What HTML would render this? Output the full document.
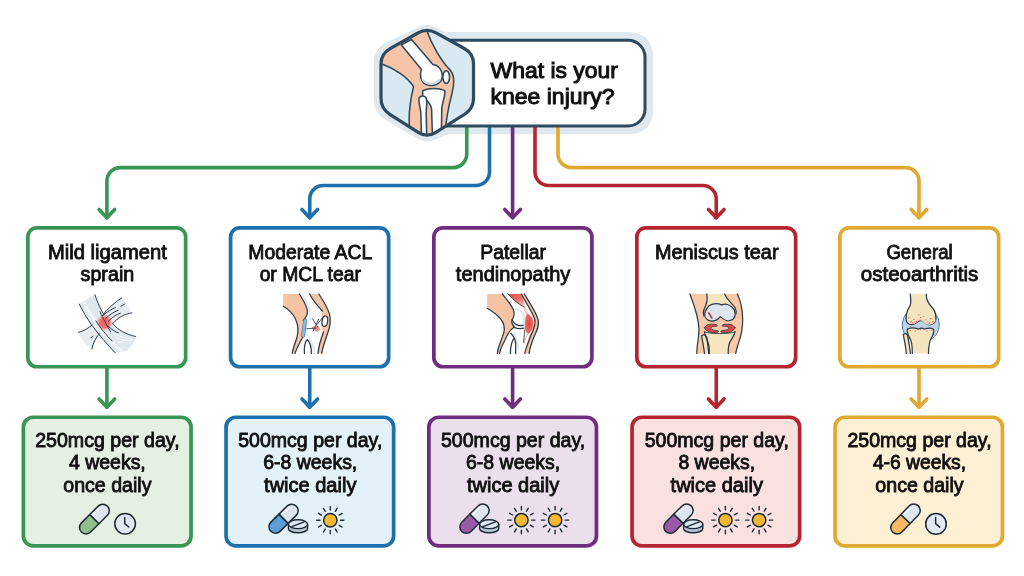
<!DOCTYPE html>
<html lang="en">
<head>
<meta charset="utf-8">
<title>What is your knee injury?</title>
<style>
html,body{margin:0;padding:0;background:#fff;}
body{width:1024px;height:576px;overflow:hidden;}
svg{display:block;will-change:opacity;}
text{font-family:"Liberation Sans",Arial,sans-serif;fill:#111;stroke:#111;stroke-width:.85px;text-anchor:middle;}
.t20{font-size:20px;}
.hd{font-size:22px;text-anchor:start;stroke-width:1px;}
.ln{fill:none;stroke-width:3.6;stroke-linecap:round;stroke-linejoin:round;}
</style>
</head>
<body>
<svg width="1024" height="576" viewBox="0 0 1024 576">

<path d="M422 33.5Q427 30.5 432 33.5L444 39.25H628Q646 39.25 646 57V109Q646 127 628 127H446L432 133Q427 135.5 422 133L389 113.5Q381 108.7 381 100V62Q381 53.7 389 49.2Z" fill="#dfe8ee" stroke="#dfe8ee" stroke-width="14.5" stroke-linejoin="round"/>
<g id="connectors">
<path class="ln" stroke="#389553" d="M466.75 127V154.1A13.5 13.5 0 0 1 453.25 167.6H120.4A13.5 13.5 0 0 0 106.9 181.1V217.8"/>
<path class="ln" stroke="#389553" d="M99.1 209.5L106.9 217.8L114.7 209.5"/>
<path class="ln" stroke="#389553" d="M106.9 368.6V407.3"/>
<path class="ln" stroke="#389553" d="M99.1 399.0L106.9 407.3L114.7 399.0"/>
<path class="ln" stroke="#1c70ab" d="M489.5 127V172.0A13.5 13.5 0 0 1 476.0 185.5H323.25A13.5 13.5 0 0 0 309.75 199.0V217.8"/>
<path class="ln" stroke="#1c70ab" d="M301.95 209.5L309.75 217.8L317.55 209.5"/>
<path class="ln" stroke="#1c70ab" d="M309.75 368.6V407.3"/>
<path class="ln" stroke="#1c70ab" d="M301.95 399.0L309.75 407.3L317.55 399.0"/>
<path class="ln" stroke="#6e2d7e" d="M512.6 127V217.8"/>
<path class="ln" stroke="#6e2d7e" d="M504.8 209.5L512.6 217.8L520.4 209.5"/>
<path class="ln" stroke="#6e2d7e" d="M512.6 368.6V407.3"/>
<path class="ln" stroke="#6e2d7e" d="M504.8 399.0L512.6 407.3L520.4 399.0"/>
<path class="ln" stroke="#b6242f" d="M535 127V172.0A13.5 13.5 0 0 0 548.5 185.5H702.75A13.5 13.5 0 0 1 716.25 199.0V217.8"/>
<path class="ln" stroke="#b6242f" d="M708.45 209.5L716.25 217.8L724.05 209.5"/>
<path class="ln" stroke="#b6242f" d="M716.25 368.6V407.3"/>
<path class="ln" stroke="#b6242f" d="M708.45 399.0L716.25 407.3L724.05 399.0"/>
<path class="ln" stroke="#e0a932" d="M558 127V154.1A13.5 13.5 0 0 0 571.5 167.6H905.5A13.5 13.5 0 0 1 919.0 181.1V217.8"/>
<path class="ln" stroke="#e0a932" d="M911.2 209.5L919.0 217.8L926.8 209.5"/>
<path class="ln" stroke="#e0a932" d="M919.0 368.6V407.3"/>
<path class="ln" stroke="#e0a932" d="M911.2 399.0L919.0 407.3L926.8 399.0"/>
</g>
<g id="header">
<defs>
<clipPath id="hexclip"><path d="M224.5 58.5Q265.5 35.5 306.7 58.2L433.6 128.1Q474.8 150.8 474.8 197.8L474.8 352.0Q474.8 399.0 435.0 424.1L305.3 505.9Q265.5 531.0 225.9 505.7L98.1 424.3Q58.5 399.0 58.5 352.0L58.5 198.6Q58.5 151.6 99.5 128.6Z"/></clipPath>
</defs>
<path d="M440 40.25H628A17 17 0 0 1 645 57.25V109A17 17 0 0 1 628 126H440" fill="#fff" stroke="#2f4a5f" stroke-width="3"/>
<g transform="translate(368 20) scale(.22222)">
<path d="M224.5 58.5Q265.5 35.5 306.7 58.2L433.6 128.1Q474.8 150.8 474.8 197.8L474.8 352.0Q474.8 399.0 435.0 424.1L305.3 505.9Q265.5 531.0 225.9 505.7L98.1 424.3Q58.5 399.0 58.5 352.0L58.5 198.6Q58.5 151.6 99.5 128.6Z" fill="#d9e9f2"/>
<g clip-path="url(#hexclip)" stroke="#2f4a5f" stroke-width="7" stroke-linejoin="round" stroke-linecap="round">
<path d="M40 190L20 190L20 0L262 0L262 40C285 110 330 185 372 228C392 252 388 290 378 330C362 390 352 440 345 520L190 520C180 450 185 380 205 300C180 260 120 215 40 190Z" fill="#f6c4a6"/>
<path d="M150 112L196 88L292 200C330 205 345 250 325 278C300 305 250 300 238 262C232 240 240 225 240 222Z" fill="#fff"/>
<path d="M246 268C262 290 300 292 322 270" fill="none" stroke="#cfd8de" stroke-width="10"/>
<path d="M246 318C275 305 320 305 345 318C350 345 335 360 332 400L330 520H290L286 400C282 372 262 360 246 345Z" fill="#fff"/>
<path d="M230 350C240 338 256 340 262 352C268 372 262 390 262 420L264 520H240L238 420C236 392 226 372 230 350Z" fill="#fff"/>
<ellipse cx="352" cy="257" rx="15" ry="29" fill="#fff"/>
</g>
<path d="M224.5 58.5Q265.5 35.5 306.7 58.2L433.6 128.1Q474.8 150.8 474.8 197.8L474.8 352.0Q474.8 399.0 435.0 424.1L305.3 505.9Q265.5 531.0 225.9 505.7L98.1 424.3Q58.5 399.0 58.5 352.0L58.5 198.6Q58.5 151.6 99.5 128.6Z" fill="none" stroke="#2f4a5f" stroke-width="14.5" stroke-linejoin="round"/>
</g>
<text class="hd" x="490.5" y="77.6" textLength="127.5" lengthAdjust="spacingAndGlyphs">What is your</text>
<text class="hd" x="490.5" y="103.75" textLength="124" lengthAdjust="spacingAndGlyphs">knee injury?</text>
</g>
<g id="injuries">
<rect x="27.85" y="227.85" width="157.8" height="138.9" rx="9" fill="#fff" stroke="#389553" stroke-width="3.7"/>
<text class="t20" x="107.4" y="258.5" textLength="119" lengthAdjust="spacingAndGlyphs">Mild ligament</text>
<text class="t20" x="107.4" y="281.0" textLength="53.75" lengthAdjust="spacingAndGlyphs">sprain</text>
<defs><radialGradient id="hot" cx=".5" cy=".5" r=".5"><stop offset="0" stop-color="#ee5a5a"/><stop offset=".6" stop-color="#f07272"/><stop offset="1" stop-color="#f3a7a4" stop-opacity="0"/></radialGradient></defs>
<g transform="translate(66 284) scale(.13889)" fill="none" stroke="#2b3a46" stroke-width="7" stroke-linecap="round" stroke-linejoin="round">
<path d="M95 145C130 122 170 98 205 78C225 130 250 185 300 250C350 315 420 360 505 378C490 420 465 455 445 475C415 488 385 495 352 495C300 440 235 360 180 290C150 245 120 195 95 145Z" fill="#dfe8ef" stroke="none"/>
<path d="M88 348C130 335 165 312 195 282C245 225 320 150 402 100C430 130 455 165 470 205C410 220 365 250 325 295C280 345 215 395 185 468C150 450 110 400 88 348Z" fill="#e6edf2" stroke="none"/>
<path d="M130 135C160 190 200 260 260 335C310 400 360 450 400 480" stroke="#f2f6f9" stroke-width="22"/>
<circle cx="278" cy="278" r="62" fill="url(#hot)" stroke="none"/>
<path d="M95 145C120 195 150 245 182 292C235 362 300 440 354 495"/>
<path d="M208 76C222 120 240 165 268 212"/>
<path d="M402 100C350 135 300 172 262 228"/>
<path d="M475 208C420 215 370 245 335 285"/>
<path d="M335 285C380 335 430 362 502 378"/>
<path d="M90 348C130 338 160 320 188 294"/>
<path d="M240 358C212 390 195 425 186 468"/>
<path d="M215 265C250 320 290 370 332 410"/>
<path d="M245 200C262 240 295 300 322 345"/>
<path d="M270 225C295 200 325 182 355 170M285 248C312 222 342 202 375 190M305 268C330 240 360 222 392 210M300 300C330 330 355 345 378 352"/>
<path d="M395 160L420 146M180 388L192 374"/>
<path d="M360 385C400 405 440 410 475 405M375 425L430 400M350 355C380 375 420 392 460 392" stroke="#fff" stroke-width="6"/>
</g>
<rect x="230.6" y="227.85" width="158.05" height="138.9" rx="9" fill="#fff" stroke="#1c70ab" stroke-width="3.7"/>
<text class="t20" x="310.25" y="258.5" textLength="124" lengthAdjust="spacingAndGlyphs">Moderate ACL</text>
<text class="t20" x="310.25" y="281.0" textLength="101.25" lengthAdjust="spacingAndGlyphs">or MCL tear</text>
<g transform="translate(270 284) scale(.13889)" fill="none" stroke="#2b3a46" stroke-width="9" stroke-linecap="round" stroke-linejoin="round">
<path d="M95 72H215C240 120 268 160 270 200C270 230 250 250 238 262C225 300 235 340 238 380C215 420 190 460 178 500H160C165 440 195 390 200 340C205 280 175 230 140 195C120 178 105 168 95 160Z" fill="#f6c3a3" stroke="none"/>
<path d="M285 72H352C375 110 410 160 428 215C440 260 435 300 415 355C395 410 380 455 372 500H345C350 450 365 400 385 345C350 320 372 230 378 195C345 160 305 110 285 72Z" fill="#f6c3a3" stroke="none"/>
<path d="M215 72H285C305 110 345 160 378 195C372 230 355 300 385 345C365 400 350 450 345 500H178C190 460 215 420 238 380C235 340 225 300 238 262C250 250 270 230 270 200C268 160 240 120 215 72Z" fill="#fff" stroke="none"/>
<path d="M232 80C262 130 290 170 292 215C292 250 270 275 262 300C258 340 262 370 285 395C305 420 315 460 318 500" stroke="#dfe8ee" stroke-width="12"/>
<path d="M300 310L345 300L365 330L335 345Z" fill="#ef8f8c" stroke="none"/>
<path d="M95 160C130 178 165 215 185 255C205 300 205 340 195 380C185 420 165 460 160 500"/>
<path d="M212 72C240 120 268 160 270 200C270 230 252 248 238 262"/>
<path d="M285 72C305 110 335 150 378 195"/>
<path d="M352 72C380 115 412 165 428 215C440 260 436 300 415 355C395 410 380 455 372 500"/>
<path d="M385 345C365 400 350 450 345 500"/>
<path d="M238 380C215 420 192 460 180 500"/>
<path d="M248 500C245 460 250 420 268 400C290 420 298 460 298 500"/>
<ellipse cx="395" cy="268" rx="20" ry="38" fill="#fff" transform="rotate(8 395 268)"/>
<path d="M252 262L238 372" stroke="#4d7798" stroke-width="28"/>
<path d="M252 262L238 372" stroke="#8fb9d8" stroke-width="18"/>
<path d="M265 322L330 318M305 250L345 310M350 255L310 340M340 290L380 240" stroke-width="6"/>
</g>
<rect x="433.85" y="227.85" width="158.05" height="138.9" rx="9" fill="#fff" stroke="#6e2d7e" stroke-width="3.7"/>
<text class="t20" x="513.1" y="258.5" textLength="65.75" lengthAdjust="spacingAndGlyphs">Patellar</text>
<text class="t20" x="513.1" y="281.0" textLength="114.5" lengthAdjust="spacingAndGlyphs">tendinopathy</text>
<defs>
<linearGradient id="mus" x1="0" y1="0" x2="1" y2="1"><stop offset="0" stop-color="#d94a40"/><stop offset=".55" stop-color="#ee7468"/><stop offset="1" stop-color="#f9d6cf"/></linearGradient>
<radialGradient id="ten" cx=".5" cy=".5" r=".6"><stop offset="0" stop-color="#e8483f"/><stop offset=".7" stop-color="#ee6a60"/><stop offset="1" stop-color="#f7b7ad"/></radialGradient>
</defs>
<g transform="translate(474 284) scale(.13889)" fill="none" stroke="#2b3a46" stroke-width="9" stroke-linecap="round" stroke-linejoin="round">
<path d="M95 72H205C235 110 270 150 285 190C292 215 290 235 275 255C268 275 275 295 290 310C260 330 240 360 225 400C205 440 185 470 182 500H168C170 450 200 400 215 350C225 310 215 280 190 250C165 220 130 195 95 175Z" fill="#f6c3a3" stroke="none"/>
<path d="M205 72H355C395 140 440 200 460 260C470 300 450 340 430 380C410 430 398 470 395 500H182C185 470 205 440 225 400C240 360 260 330 290 310C275 295 268 275 275 255C290 235 292 215 285 190C270 150 235 110 205 72Z" fill="#fff" stroke="none"/>
<path d="M340 72H362C400 135 445 200 462 258C472 300 452 340 432 380C412 430 400 470 397 500H366C370 450 388 400 408 350C432 300 438 260 414 215C392 170 360 120 340 72Z" fill="#f6c3a3" stroke="none"/>
<path d="M245 72H340C352 100 368 135 364 168C335 158 295 128 245 72Z" fill="url(#mus)" stroke="none"/>
<path d="M362 166C370 185 376 202 382 215" stroke="#f4c9c0" stroke-width="16"/>
<path d="M382 210C412 225 432 255 428 292C424 328 402 352 386 364C368 340 360 300 366 265C370 240 375 225 382 210Z" fill="url(#ten)" stroke="none"/>
<path d="M385 360C375 380 365 400 358 425" stroke="#f3c4bb" stroke-width="12"/>
<path d="M300 180C340 190 365 220 362 260C360 285 340 300 315 300C295 300 280 290 278 270" stroke="#dfe8ee" stroke-width="14"/>
<path d="M285 345C300 380 315 420 318 470" stroke="#dfe8ee" stroke-width="12"/>
<path d="M95 175C130 195 165 220 190 250C215 280 225 310 215 350C200 400 172 450 168 500"/>
<path d="M205 72C235 110 270 150 285 190C292 215 290 235 275 255C268 275 275 295 290 310"/>
<path d="M275 258C285 290 320 305 355 298"/>
<path d="M290 312C310 322 340 322 360 318"/>
<path d="M290 310C260 330 240 360 225 400C205 440 187 470 184 500"/>
<path d="M265 355C285 375 298 400 300 430V500M262 500C262 460 270 420 285 395"/>
<path d="M340 72C375 135 420 200 438 255C448 295 428 335 408 375C390 425 370 470 366 500"/>
<path d="M362 72C400 135 445 200 462 258C472 300 452 340 432 380C412 430 400 470 397 500"/>
<path d="M245 72C290 122 332 152 362 166" stroke-width="6"/>
<path d="M365 330C362 360 360 390 358 420" stroke-width="6"/>
</g>
<rect x="636.85" y="227.85" width="158.8" height="138.9" rx="9" fill="#fff" stroke="#b6242f" stroke-width="3.7"/>
<text class="t20" x="716.75" y="258.5" textLength="123.5" lengthAdjust="spacingAndGlyphs">Meniscus tear</text>
<g transform="translate(676 284) scale(.13889)" fill="none" stroke="#2b3a46" stroke-width="9" stroke-linecap="round" stroke-linejoin="round">
<path d="M100 72H442C465 120 478 180 480 250C482 330 460 400 445 440C438 465 432 485 430 500H150C148 440 168 380 165 320C162 240 130 150 100 72Z" fill="#f8c8a9" stroke="none"/>
<path d="M222 72H350C365 110 400 135 425 170C440 200 435 240 410 258C380 275 340 262 320 235C300 262 262 278 232 262C200 245 190 205 205 175C225 140 228 110 222 72Z" fill="#f6e6c0" stroke="none"/>
<path d="M205 345H425C420 380 390 400 380 440C376 460 376 480 376 500H240C240 480 240 460 236 440C228 400 208 380 205 345Z" fill="#f6e6c0" stroke="none"/>
<path d="M185 372C200 360 218 368 222 385C226 420 232 460 236 500H205C202 460 190 420 185 372Z" fill="#f6e6c0" stroke="none"/><path d="M205 500C202 460 190 420 185 372C200 360 218 368 222 385C226 420 232 460 236 500"/>
<path d="M100 72C130 150 162 240 165 320C168 380 148 440 150 500"/>
<path d="M442 72C465 120 478 180 480 250C482 330 460 400 445 440C438 465 432 485 430 500"/>
<path d="M222 72C228 110 225 140 205 175C195 195 195 215 202 232"/>
<path d="M350 72C365 110 400 135 425 170C432 185 435 200 432 215"/>
<path d="M240 155C270 138 300 138 330 150C360 138 395 150 418 185C432 210 428 240 408 256C380 272 345 262 320 235C300 262 262 275 235 262C210 250 200 225 210 200C218 180 228 165 240 155Z" fill="#dde6ee"/>
<path d="M236 208L258 246" stroke="#c8352f" stroke-width="12"/>
<path d="M205 315C215 290 250 285 290 292C300 295 300 305 290 305C265 302 250 310 252 320C256 332 280 335 300 335C308 336 308 348 300 350C255 355 215 345 205 315Z" fill="#dc4a44" stroke-width="6"/>
<path d="M425 315C415 290 380 285 340 292C330 295 330 305 340 305C365 302 380 310 378 320C374 332 350 335 330 335C322 336 322 348 330 350C375 355 415 345 425 315Z" fill="#dc4a44" stroke-width="6"/>
<path d="M205 345C208 380 228 400 236 440C240 460 240 480 240 500M425 345C420 380 390 400 380 440C376 460 376 480 376 500"/>
<path d="M205 345C250 362 380 362 425 345" stroke-width="6"/>
</g>
<rect x="839.85" y="227.85" width="158.8" height="138.9" rx="9" fill="#fff" stroke="#e0a932" stroke-width="3.7"/>
<text class="t20" x="919.5" y="258.5" textLength="66.25" lengthAdjust="spacingAndGlyphs">General</text>
<text class="t20" x="919.5" y="281.0" textLength="117.5" lengthAdjust="spacingAndGlyphs">osteoarthritis</text>
<g transform="translate(879 284) scale(.13889)" fill="none" stroke="#2b3a46" stroke-width="9" stroke-linecap="round" stroke-linejoin="round">
<path d="M195 215C165 250 160 310 180 350C200 395 240 410 300 410C360 410 400 395 420 350C442 305 438 250 405 215Z" fill="#bcd4e6" stroke="#4d7798" stroke-width="7"/>
<path d="M225 72H340C340 110 350 135 375 160C400 185 412 215 410 250C408 280 385 295 360 292C335 290 318 262 300 262C282 262 265 290 240 292C215 295 195 280 195 250C195 215 205 185 222 160C235 135 228 110 225 72Z" fill="#f4e4bf" stroke="none"/><path d="M340 72C340 110 350 135 375 160C400 185 412 215 410 250C408 280 385 295 360 292C335 290 318 262 300 262C282 262 265 290 240 292C215 295 195 280 195 250C195 215 205 185 222 160C235 135 228 110 225 72"/>
<path d="M205 325C230 312 265 318 285 325C300 315 315 315 325 325C345 318 375 312 392 325C400 345 390 365 378 385C362 410 358 440 356 500H240C240 440 236 410 220 385C208 365 198 345 205 325Z" fill="#f4e4bf" stroke="none"/><path d="M240 500C240 440 236 410 220 385C208 365 198 345 205 325C230 312 265 318 285 325C300 315 315 315 325 325C345 318 375 312 392 325C400 345 390 365 378 385C362 410 358 440 356 500"/>
<path d="M175 362C188 352 202 358 206 372C212 410 222 450 226 500H196C194 450 182 410 175 362Z" fill="#f4e4bf" stroke="none"/><path d="M196 500C194 450 182 410 175 362C188 352 202 358 206 372C212 410 222 450 226 500"/>
<path d="M210 268C225 285 250 285 265 272C280 258 295 250 305 255C320 262 335 285 355 285C375 288 395 278 400 262" stroke="#f6cfc0" stroke-width="16"/>
<path d="M215 335C240 328 265 335 285 335C300 328 315 328 325 335C345 330 370 328 385 335" stroke="#f7dcc8" stroke-width="10"/>
<g fill="#e0524a" stroke="none">
<circle cx="215" cy="245" r="5"/><circle cx="232" cy="270" r="5"/><circle cx="252" cy="255" r="4"/><circle cx="270" cy="268" r="4"/><circle cx="288" cy="222" r="4"/><circle cx="300" cy="242" r="5"/><circle cx="322" cy="232" r="4"/><circle cx="338" cy="258" r="5"/><circle cx="352" cy="272" r="4"/><circle cx="372" cy="250" r="5"/><circle cx="388" cy="268" r="4"/><circle cx="243" cy="282" r="4"/><circle cx="362" cy="282" r="4"/>
<circle cx="225" cy="333" r="4"/><circle cx="262" cy="338" r="4"/><circle cx="300" cy="326" r="4"/><circle cx="345" cy="338" r="4"/><circle cx="380" cy="333" r="4"/>
</g>
</g>
</g>
<g id="dosages">
<rect x="23.35" y="417.25" width="167.7" height="128.7" rx="10" fill="#e4f1e2" stroke="#389553" stroke-width="3.7"/>
<text class="t20" x="107.4" y="446.9" textLength="144.5" lengthAdjust="spacingAndGlyphs">250mcg per day,</text>
<text class="t20" x="107.4" y="469.4" textLength="76.75" lengthAdjust="spacingAndGlyphs">4 weeks,</text>
<text class="t20" x="107.4" y="491.9" textLength="88.25" lengthAdjust="spacingAndGlyphs">once daily</text>
<g transform="translate(94.38 519.12) rotate(-45.0)" stroke="#1d2b36" stroke-width="1.5" stroke-linejoin="round"><path d="M0 -6.5H-11.84A6.5 6.5 0 0 0 -11.84 6.5H0Z" fill="#8fc08b"/><path d="M0 -6.5H11.84A6.5 6.5 0 0 1 11.84 6.5H0Z" fill="#dde5ee"/><path d="M1.78 -4.3H11.84" stroke="#f4f8fb" stroke-width="1.6" stroke-linecap="round" fill="none"/></g><circle cx="125.1" cy="523.8" r="10.3" fill="#e2e9f3" stroke="#1d2b36" stroke-width="1.5"/><path d="M124.7 517.5V523.6L128.8 527.0" fill="none" stroke="#1d2b36" stroke-width="1.5" stroke-linecap="round" stroke-linejoin="round"/>
<rect x="226.05" y="417.25" width="167.6" height="128.7" rx="10" fill="#e3f1f8" stroke="#1c70ab" stroke-width="3.7"/>
<text class="t20" x="310.25" y="446.9" textLength="144.2" lengthAdjust="spacingAndGlyphs">500mcg per day,</text>
<text class="t20" x="310.25" y="469.4" textLength="94.1" lengthAdjust="spacingAndGlyphs">6-8 weeks,</text>
<text class="t20" x="310.25" y="491.9" textLength="92.3" lengthAdjust="spacingAndGlyphs">twice daily</text>
<g transform="translate(283.57 518.75) rotate(-44.7)" stroke="#1d2b36" stroke-width="1.5" stroke-linejoin="round"><path d="M0 -6.5H-11.37A6.5 6.5 0 0 0 -11.37 6.5H0Z" fill="#5b9fd5"/><path d="M0 -6.5H11.37A6.5 6.5 0 0 1 11.37 6.5H0Z" fill="#dde5ee"/><path d="M1.71 -4.3H11.37" stroke="#f4f8fb" stroke-width="1.6" stroke-linecap="round" fill="none"/></g><path d="M288.4 524.2V528.4A9.6 4.4 0 0 0 307.6 528.4V524.2Z" fill="#b5c5d3" stroke="#1d2b36" stroke-width="1.4" stroke-linejoin="round"/><ellipse cx="298" cy="524.2" rx="9.6" ry="4.4" fill="#dfe8f0" stroke="#1d2b36" stroke-width="1.4"/><path d="M291.8 526.6L304.2 521.8" stroke="#1d2b36" stroke-width="1.3" stroke-linecap="round"/><circle cx="330.3" cy="520.2" r="6.7" fill="#f6b830" stroke="#1d2b36" stroke-width="1.5"/><path d="M340.50 520.20L343.90 520.20M339.13 525.30L342.08 527.00M335.40 529.03L337.10 531.98M330.30 530.40L330.30 533.80M325.20 529.03L323.50 531.98M321.47 525.30L318.52 527.00M320.10 520.20L316.70 520.20M321.47 515.10L318.52 513.40M325.20 511.37L323.50 508.42M330.30 510.00L330.30 506.60M335.40 511.37L337.10 508.42M339.13 515.10L342.08 513.40" stroke="#1d2b36" stroke-width="1.4" stroke-linecap="round" fill="none"/>
<rect x="428.85" y="417.25" width="167.6" height="128.7" rx="10" fill="#ebdeed" stroke="#6e2d7e" stroke-width="3.7"/>
<text class="t20" x="513.1" y="446.9" textLength="144.2" lengthAdjust="spacingAndGlyphs">500mcg per day,</text>
<text class="t20" x="513.1" y="469.4" textLength="94.1" lengthAdjust="spacingAndGlyphs">6-8 weeks,</text>
<text class="t20" x="513.1" y="491.9" textLength="92.3" lengthAdjust="spacingAndGlyphs">twice daily</text>
<g transform="translate(474.50 518.67) rotate(-45.1)" stroke="#1d2b36" stroke-width="1.5" stroke-linejoin="round"><path d="M0 -6.5H-11.54A6.5 6.5 0 0 0 -11.54 6.5H0Z" fill="#9a5aa5"/><path d="M0 -6.5H11.54A6.5 6.5 0 0 1 11.54 6.5H0Z" fill="#dde5ee"/><path d="M1.73 -4.3H11.54" stroke="#f4f8fb" stroke-width="1.6" stroke-linecap="round" fill="none"/></g><path d="M479.6 524.2V528.4A9.6 4.4 0 0 0 498.8 528.4V524.2Z" fill="#b5c5d3" stroke="#1d2b36" stroke-width="1.4" stroke-linejoin="round"/><ellipse cx="489.2" cy="524.2" rx="9.6" ry="4.4" fill="#dfe8f0" stroke="#1d2b36" stroke-width="1.4"/><path d="M483.0 526.6L495.4 521.8" stroke="#1d2b36" stroke-width="1.3" stroke-linecap="round"/><circle cx="521.4" cy="520.1" r="6.7" fill="#f6b830" stroke="#1d2b36" stroke-width="1.5"/><path d="M531.60 520.10L535.00 520.10M530.23 525.20L533.18 526.90M526.50 528.93L528.20 531.88M521.40 530.30L521.40 533.70M516.30 528.93L514.60 531.88M512.57 525.20L509.62 526.90M511.20 520.10L507.80 520.10M512.57 515.00L509.62 513.30M516.30 511.27L514.60 508.32M521.40 509.90L521.40 506.50M526.50 511.27L528.20 508.32M530.23 515.00L533.18 513.30" stroke="#1d2b36" stroke-width="1.4" stroke-linecap="round" fill="none"/><circle cx="555.1" cy="520.1" r="6.7" fill="#f6b830" stroke="#1d2b36" stroke-width="1.5"/><path d="M565.30 520.10L568.70 520.10M563.93 525.20L566.88 526.90M560.20 528.93L561.90 531.88M555.10 530.30L555.10 533.70M550.00 528.93L548.30 531.88M546.27 525.20L543.32 526.90M544.90 520.10L541.50 520.10M546.27 515.00L543.32 513.30M550.00 511.27L548.30 508.32M555.10 509.90L555.10 506.50M560.20 511.27L561.90 508.32M563.93 515.00L566.88 513.30" stroke="#1d2b36" stroke-width="1.4" stroke-linecap="round" fill="none"/>
<rect x="632.05" y="417.25" width="167.6" height="128.7" rx="10" fill="#f9e1e0" stroke="#b6242f" stroke-width="3.7"/>
<text class="t20" x="716.75" y="446.9" textLength="144.2" lengthAdjust="spacingAndGlyphs">500mcg per day,</text>
<text class="t20" x="716.75" y="469.4" textLength="76.75" lengthAdjust="spacingAndGlyphs">8 weeks,</text>
<text class="t20" x="716.75" y="491.9" textLength="92.3" lengthAdjust="spacingAndGlyphs">twice daily</text>
<g transform="translate(678.50 518.67) rotate(-45.1)" stroke="#1d2b36" stroke-width="1.5" stroke-linejoin="round"><path d="M0 -6.5H-11.54A6.5 6.5 0 0 0 -11.54 6.5H0Z" fill="#9a5aa5"/><path d="M0 -6.5H11.54A6.5 6.5 0 0 1 11.54 6.5H0Z" fill="#dde5ee"/><path d="M1.73 -4.3H11.54" stroke="#f4f8fb" stroke-width="1.6" stroke-linecap="round" fill="none"/></g><path d="M683.6 524.2V528.4A9.6 4.4 0 0 0 702.8 528.4V524.2Z" fill="#b5c5d3" stroke="#1d2b36" stroke-width="1.4" stroke-linejoin="round"/><ellipse cx="693.2" cy="524.2" rx="9.6" ry="4.4" fill="#dfe8f0" stroke="#1d2b36" stroke-width="1.4"/><path d="M687.0 526.6L699.4 521.8" stroke="#1d2b36" stroke-width="1.3" stroke-linecap="round"/><circle cx="725.4" cy="520.1" r="6.7" fill="#f6b830" stroke="#1d2b36" stroke-width="1.5"/><path d="M735.60 520.10L739.00 520.10M734.23 525.20L737.18 526.90M730.50 528.93L732.20 531.88M725.40 530.30L725.40 533.70M720.30 528.93L718.60 531.88M716.57 525.20L713.62 526.90M715.20 520.10L711.80 520.10M716.57 515.00L713.62 513.30M720.30 511.27L718.60 508.32M725.40 509.90L725.40 506.50M730.50 511.27L732.20 508.32M734.23 515.00L737.18 513.30" stroke="#1d2b36" stroke-width="1.4" stroke-linecap="round" fill="none"/><circle cx="759.1" cy="520.1" r="6.7" fill="#f6b830" stroke="#1d2b36" stroke-width="1.5"/><path d="M769.30 520.10L772.70 520.10M767.93 525.20L770.88 526.90M764.20 528.93L765.90 531.88M759.10 530.30L759.10 533.70M754.00 528.93L752.30 531.88M750.27 525.20L747.32 526.90M748.90 520.10L745.50 520.10M750.27 515.00L747.32 513.30M754.00 511.27L752.30 508.32M759.10 509.90L759.10 506.50M764.20 511.27L765.90 508.32M767.93 515.00L770.88 513.30" stroke="#1d2b36" stroke-width="1.4" stroke-linecap="round" fill="none"/>
<rect x="835.05" y="417.25" width="167.4" height="128.7" rx="10" fill="#fdf0d5" stroke="#e0a932" stroke-width="3.7"/>
<text class="t20" x="919.5" y="446.9" textLength="144.2" lengthAdjust="spacingAndGlyphs">250mcg per day,</text>
<text class="t20" x="919.5" y="469.4" textLength="93.2" lengthAdjust="spacingAndGlyphs">4-6 weeks,</text>
<text class="t20" x="919.5" y="491.9" textLength="88.3" lengthAdjust="spacingAndGlyphs">once daily</text>
<g transform="translate(905.50 519.02) rotate(-45.8)" stroke="#1d2b36" stroke-width="1.5" stroke-linejoin="round"><path d="M0 -6.5H-11.83A6.5 6.5 0 0 0 -11.83 6.5H0Z" fill="#f6b961"/><path d="M0 -6.5H11.83A6.5 6.5 0 0 1 11.83 6.5H0Z" fill="#dde5ee"/><path d="M1.77 -4.3H11.83" stroke="#f4f8fb" stroke-width="1.6" stroke-linecap="round" fill="none"/></g><circle cx="936" cy="523.9" r="10.3" fill="#e2e9f3" stroke="#1d2b36" stroke-width="1.5"/><path d="M935.6 517.6V523.7L939.7 527.1" fill="none" stroke="#1d2b36" stroke-width="1.5" stroke-linecap="round" stroke-linejoin="round"/>
</g>
</svg>
</body>
</html>
